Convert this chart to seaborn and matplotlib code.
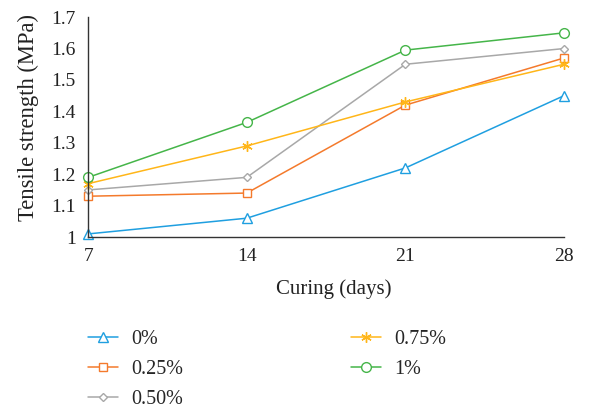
import matplotlib
matplotlib.use("Agg")
import matplotlib.pyplot as plt
import pandas as pd
import seaborn as sns

# Curing age (days) and tensile strength (MPa) per fibre content
days = [7, 14, 21, 28]
fibre_labels = ["0%", "0.25%", "0.50%", "0.75%", "1%"]
s_0 = [1.01, 1.06, 1.22, 1.45]
s_025 = [1.13, 1.14, 1.42, 1.57]
s_050 = [1.15, 1.19, 1.55, 1.60]
s_075 = [1.17, 1.29, 1.43, 1.55]
s_100 = [1.19, 1.365, 1.595, 1.65]

colors = ["#1f9fe0", "#f47a2c", "#a8a8a8", "#ffb619", "#45b549"]
markers = ["^", "s", "D", "*", "o"]
msizes = [7, 6, 4.5, 7.5, 7]

df = pd.DataFrame({"days": days * 5,
                   "strength": s_0 + s_025 + s_050 + s_075 + s_100,
                   "fibre": [f for f in fibre_labels for _ in days]})

sns.set_theme(style="white")
plt.rcParams["font.family"] = ["Liberation Serif", "DejaVu Serif"]

fig = plt.figure(figsize=(6, 4.08), dpi=100)
ax = fig.add_axes([0.147, 0.419, 0.793, 0.539])

sns.lineplot(data=df, x="days", y="strength", hue="fibre", style="fibre",
             hue_order=fibre_labels, style_order=fibre_labels,
             palette=colors, markers=markers, dashes=False,
             linewidth=1.1, legend=False, ax=ax)

for line, c, ms in zip(ax.lines, colors, msizes):
    line.set_markeredgecolor(c)
    line.set_markerfacecolor("white")
    line.set_markeredgewidth(1.0)
    line.set_markersize(ms)
    line.set_clip_on(False)
# asterisk marker for the 0.75% series
ax.lines[3].set_marker((6, 2, 0))

ax.set_xlim(7, 28)
ax.set_ylim(1, 1.7)
ax.set_xticks(days)
ax.set_yticks([1, 1.1, 1.2, 1.3, 1.4, 1.5, 1.6, 1.7])
ax.set_yticklabels(["1", "1.1", "1.2", "1.3", "1.4", "1.5", "1.6", "1.7"])
ax.tick_params(length=0, labelsize=14, colors="#222222")
ax.tick_params(axis="y", pad=9)
ax.tick_params(axis="x", pad=8)
ax.set_xlabel("Curing (days)", fontsize=15, color="#222222")
ax.set_ylabel("Tensile strength (MPa)", fontsize=16.3, color="#222222")
ax.xaxis.set_label_coords(0.517, -0.19)
ax.yaxis.set_label_coords(-0.104, 0.545)
sns.despine(ax=ax)
for side in ["left", "bottom"]:
    ax.spines[side].set_color("#333333")
    ax.spines[side].set_linewidth(1.0)

ax.legend(handles=ax.lines[:5], labels=fibre_labels, ncol=2, frameon=False,
          loc="upper left", bbox_to_anchor=(0.147, 0.192),
          bbox_transform=fig.transFigure, fontsize=14.5,
          borderaxespad=0, borderpad=0,
          handlelength=1.5, handletextpad=0.65, labelspacing=0.55,
          columnspacing=8.3)

fig.savefig("out.png", dpi=100)
plt.close(fig)
